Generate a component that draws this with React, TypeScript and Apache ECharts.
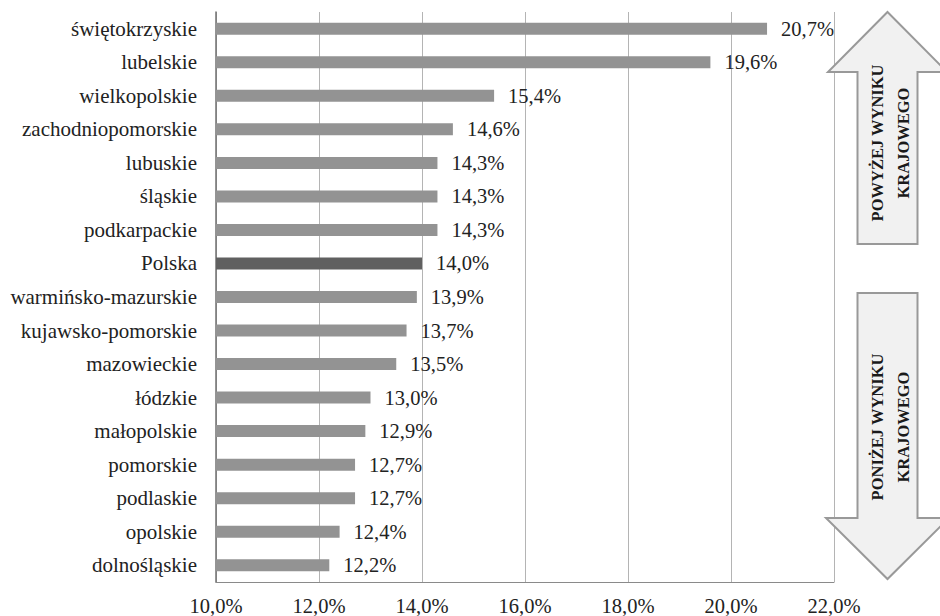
import React, { useEffect, useRef } from "react";
import * as echarts from "echarts";

const categories = [
  "świętokrzyskie",
  "lubelskie",
  "wielkopolskie",
  "zachodniopomorskie",
  "lubuskie",
  "śląskie",
  "podkarpackie",
  "Polska",
  "warmińsko-mazurskie",
  "kujawsko-pomorskie",
  "mazowieckie",
  "łódzkie",
  "małopolskie",
  "pomorskie",
  "podlaskie",
  "opolskie",
  "dolnośląskie",
];

const values = [20.7, 19.6, 15.4, 14.6, 14.3, 14.3, 14.3, 14.0, 13.9, 13.7, 13.5, 13.0, 12.9, 12.7, 12.7, 12.4, 12.2];

const highlightCategory = "Polska";
const axisMin = 10;
const axisMax = 22;
const axisInterval = 2;

const upLabel = "POWYŻEJ WYNIKU\nKRAJOWEGO";
const downLabel = "PONIŻEJ WYNIKU\nKRAJOWEGO";

const FONT = "Liberation Serif";
const fmt = (v: number) => v.toFixed(1).replace(".", ",") + "%";

export default function App() {
  const ref = useRef<HTMLDivElement>(null);

  useEffect(() => {
    if (!ref.current) return;
    const chart = echarts.init(ref.current, undefined, { renderer: "svg" });

    const arrowStyle = { fill: "#f1f1f1", stroke: "#999999", lineWidth: 2 };
    const textStyle = {
      fill: "#1a1a1a",
      fontFamily: FONT,
      fontSize: 16.5,
      fontWeight: "bold",
      align: "center",
      verticalAlign: "middle",
      lineHeight: 26,
    };

    chart.setOption({
      animation: false,
      backgroundColor: "#ffffff",
      textStyle: { fontFamily: FONT },
      grid: { left: 216, right: 106, top: 12, bottom: 34, containLabel: false },
      xAxis: {
        type: "value",
        min: axisMin,
        max: axisMax,
        interval: axisInterval,
        axisLine: { show: true, lineStyle: { color: "#8a8a8a", width: 1 } },
        axisTick: { show: false },
        axisLabel: {
          formatter: (v: number) => fmt(v),
          fontFamily: FONT,
          fontSize: 20.5,
          color: "#222",
          margin: 13,
        },
        splitLine: { show: true, lineStyle: { color: "#b4b4b4", width: 1 } },
      },
      yAxis: {
        type: "category",
        inverse: true,
        data: categories,
        axisLine: { show: true, lineStyle: { color: "#707070", width: 1.5 } },
        axisTick: { show: false },
        axisLabel: {
          fontFamily: FONT,
          fontSize: 21,
          color: "#222",
          margin: 19,
        },
        splitLine: { show: false },
      },
      series: [
        {
          type: "bar",
          barWidth: 12,
          data: values.map((v, i) => ({
            value: v,
            itemStyle: { color: categories[i] === highlightCategory ? "#606060" : "#939393" },
          })),
          label: {
            show: true,
            position: "right",
            distance: 14,
            formatter: (p: any) => fmt(p.value),
            fontFamily: FONT,
            fontSize: 20.5,
            color: "#222",
          },
        },
      ],
      graphic: [
        {
          type: "polygon",
          z: 10,
          shape: {
            points: [
              [887.5, 12],
              [947, 72],
              [917.5, 72],
              [917.5, 244],
              [857.5, 244],
              [857.5, 72],
              [828, 72],
            ],
          },
          style: arrowStyle,
        },
        {
          type: "text",
          z: 11,
          x: 890,
          y: 143,
          rotation: Math.PI / 2,
          style: { ...textStyle, text: upLabel },
        },
        {
          type: "polygon",
          z: 10,
          shape: {
            points: [
              [857.5, 293],
              [917.5, 293],
              [917.5, 518],
              [949, 518],
              [887.5, 579],
              [826, 518],
              [857.5, 518],
            ],
          },
          style: arrowStyle,
        },
        {
          type: "text",
          z: 11,
          x: 890,
          y: 427,
          rotation: Math.PI / 2,
          style: { ...textStyle, text: downLabel },
        },
      ],
    });

    return () => chart.dispose();
  }, []);

  return (
    <div
      ref={ref}
      style={{ position: "fixed", left: 0, top: 0, width: 940, height: 616, background: "#fff" }}
    />
  );
}
